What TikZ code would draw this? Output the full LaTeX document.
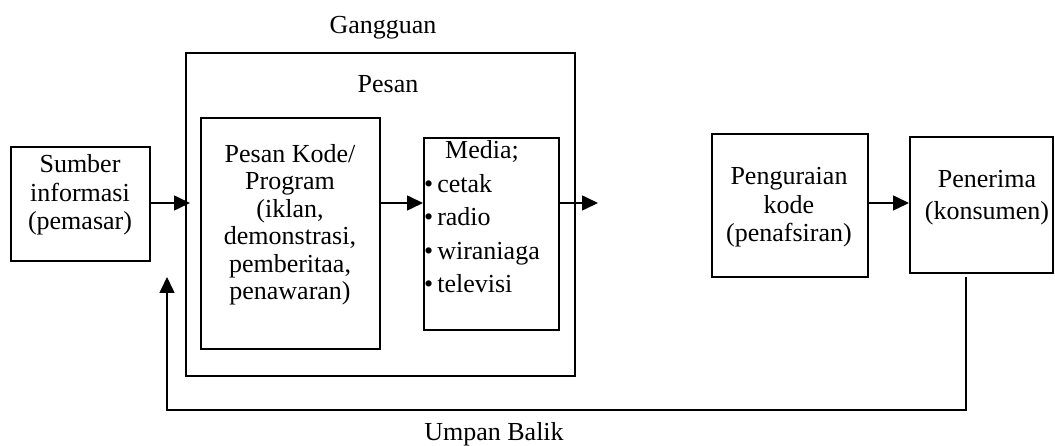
\documentclass[tikz,border=0pt]{standalone}
\usepackage{fontspec}
\setmainfont{Liberation Serif}
\usetikzlibrary{arrows.meta, positioning, calc}

\begin{document}
\begin{tikzpicture}[x=1pt, y=-1pt,
        box/.style={draw, line width=1.6pt, inner sep=0pt, anchor=north west},
        txt/.style={align=center, inner sep=0pt, anchor=base,
                    font=\fontsize{26}{28.5}\selectfont},
        lst/.style={align=left, inner sep=0pt, anchor=base west,
                    font=\fontsize{26}{33.5}\selectfont},
        arr/.style={line width=1.6pt, -{Triangle[length=16pt,width=15pt]}}
      ]
        \useasboundingbox (0,0) rectangle (1055,446);
        % boxes
        \node[box, minimum width=389, minimum height=323] (pesan) at (185,52) {};
        \node[box, minimum width=139, minimum height=114] (sumber) at (10,146) {};
        \node[box, minimum width=179, minimum height=231] (kode) at (200,117) {};
        \node[box, minimum width=135, minimum height=192] (media) at (423,137) {};
        \node[box, minimum width=156, minimum height=143] (uraian) at (711,133) {};
        \node[box, minimum width=143, minimum height=136] (terima) at (909,136) {};
        % texts (base = last line)
        \node[txt] (gangguan) at (383,34) {Gangguan};
        \node[txt] (pesanlbl) at (388,93) {Pesan};
        \node[txt] (sumberlbl) at (80,230) {Sumber\\informasi\\(pemasar)};
        \node[txt, font=\fontsize{26}{27.6}\selectfont] (kodelbl) at (290,300)
          {Pesan Kode/\\Program\\(iklan,\\demonstrasi,\\pemberitaa,\\penawaran)};
        \node[lst] (medialbl) at (424,293)
          {\hspace*{21pt}Media;\\\textbullet\hspace{4pt}cetak\\\textbullet\hspace{4pt}radio\\
           \textbullet\hspace{4pt}wiraniaga\\\textbullet\hspace{4pt}televisi};
        \node[txt] (uraianlbl) at (789,242) {Penguraian\\kode\\(penafsiran)};
        \node[txt, font=\fontsize{26}{32}\selectfont] (terimalbl) at (987,220)
          {Penerima\\(konsumen)};
        \node[txt] (umpan) at (494,440) {Umpan Balik};
        % connectors
        \coordinate (lvl) at (0,203);
        \coordinate (keluar) at (598,203);
        \coordinate (balik) at (966,277);
        \coordinate (masuk) at (167,277);
        \coordinate (fbbase) at (0,410);
        \draw[arr, shorten >=-5pt] (sumber.east |- lvl) -- (pesan.west |- lvl);
        \draw[arr] (kode.east |- lvl) -- (media.west |- lvl);
        \draw[arr] (media.east |- lvl) -- (keluar);
        \draw[arr] (uraian.east |- lvl) -- (terima.west |- lvl);
        \draw[arr] (balik) -- (balik |- fbbase) -| (masuk);
      \end{tikzpicture}
\end{document}
